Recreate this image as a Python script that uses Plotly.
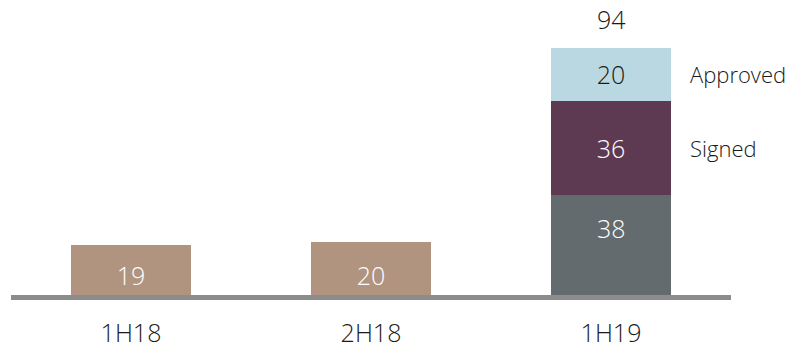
import plotly.graph_objects as go

categories = ["1H18", "2H18", "1H19"]
total_values = [19, 20, None]          # single-colour bars
realised = [None, None, 38]            # grey segment
signed = [None, None, 36]              # purple segment
approved = [None, None, 20]            # light blue segment
total_1h19 = 94
series_names = ["Approved", "Signed"]

FONT = "Open Sans"
TAN = "#B09480"
GREY = "#636B6E"
PURPLE = "#5E3A52"
BLUE = "#BAD8E1"
DARK = "#1A1A1A"
NUM = 25
LBL = 22

def txt(vals):
    return [("" if v is None else str(v)) for v in vals]

fig = go.Figure()
fig.add_bar(x=categories, y=total_values, marker_color=TAN, text=txt(total_values),
            textposition="inside", insidetextanchor="start",
            textfont=dict(color="white", size=NUM, family=FONT, weight=300), width=0.5)
fig.add_bar(x=categories, y=realised, marker_color=GREY, textposition="none", width=0.5)
fig.add_bar(x=categories, y=signed, marker_color=PURPLE, text=txt(signed),
            textposition="inside", insidetextanchor="middle",
            textfont=dict(color="white", size=NUM, family=FONT, weight=300), width=0.5)
fig.add_bar(x=categories, y=approved, marker_color=BLUE, text=txt(approved),
            textposition="inside", insidetextanchor="middle",
            textfont=dict(color=DARK, size=NUM, family=FONT, weight=300), width=0.5)

fig.update_traces(marker_line_width=0, constraintext="none")

# label of the grey segment (sits above its middle in the reference)
fig.add_annotation(x=categories[2], y=realised[2] / 2, text=str(realised[2]), showarrow=False,
                   yshift=17, font=dict(size=NUM, color="white", family=FONT, weight=300))
# total above stacked bar
fig.add_annotation(x=categories[2], y=total_1h19, text=str(total_1h19), showarrow=False,
                   yanchor="bottom", yshift=10,
                   font=dict(size=NUM, color=DARK, family=FONT, weight=300))
# series labels to the right of the stacked bar
fig.add_annotation(x=categories[2], y=realised[2] + signed[2] + approved[2] / 2,
                   text=series_names[0], showarrow=False, xanchor="left", xshift=77,
                   font=dict(size=LBL, color=DARK, family=FONT, weight=300))
fig.add_annotation(x=categories[2], y=realised[2] + signed[2] / 2,
                   text=series_names[1], showarrow=False, xanchor="left", xshift=77,
                   font=dict(size=LBL, color=DARK, family=FONT, weight=300))

fig.update_layout(
    barmode="stack",
    width=794, height=351,
    margin=dict(l=11, r=63, t=35, b=56, autoexpand=False),
    paper_bgcolor="white", plot_bgcolor="white",
    showlegend=False,
    xaxis=dict(range=[-0.5, 2.5], showline=True, linecolor="#8C8C8C", linewidth=5,
               showgrid=False, zeroline=False, ticks="", ticklabelstandoff=12,
               automargin=False,
               tickfont=dict(size=25, color=DARK, family=FONT, weight=300)),
    yaxis=dict(range=[0, 99], visible=False, showgrid=False, zeroline=False,
               automargin=False),
)

fig.write_html("out.html")
